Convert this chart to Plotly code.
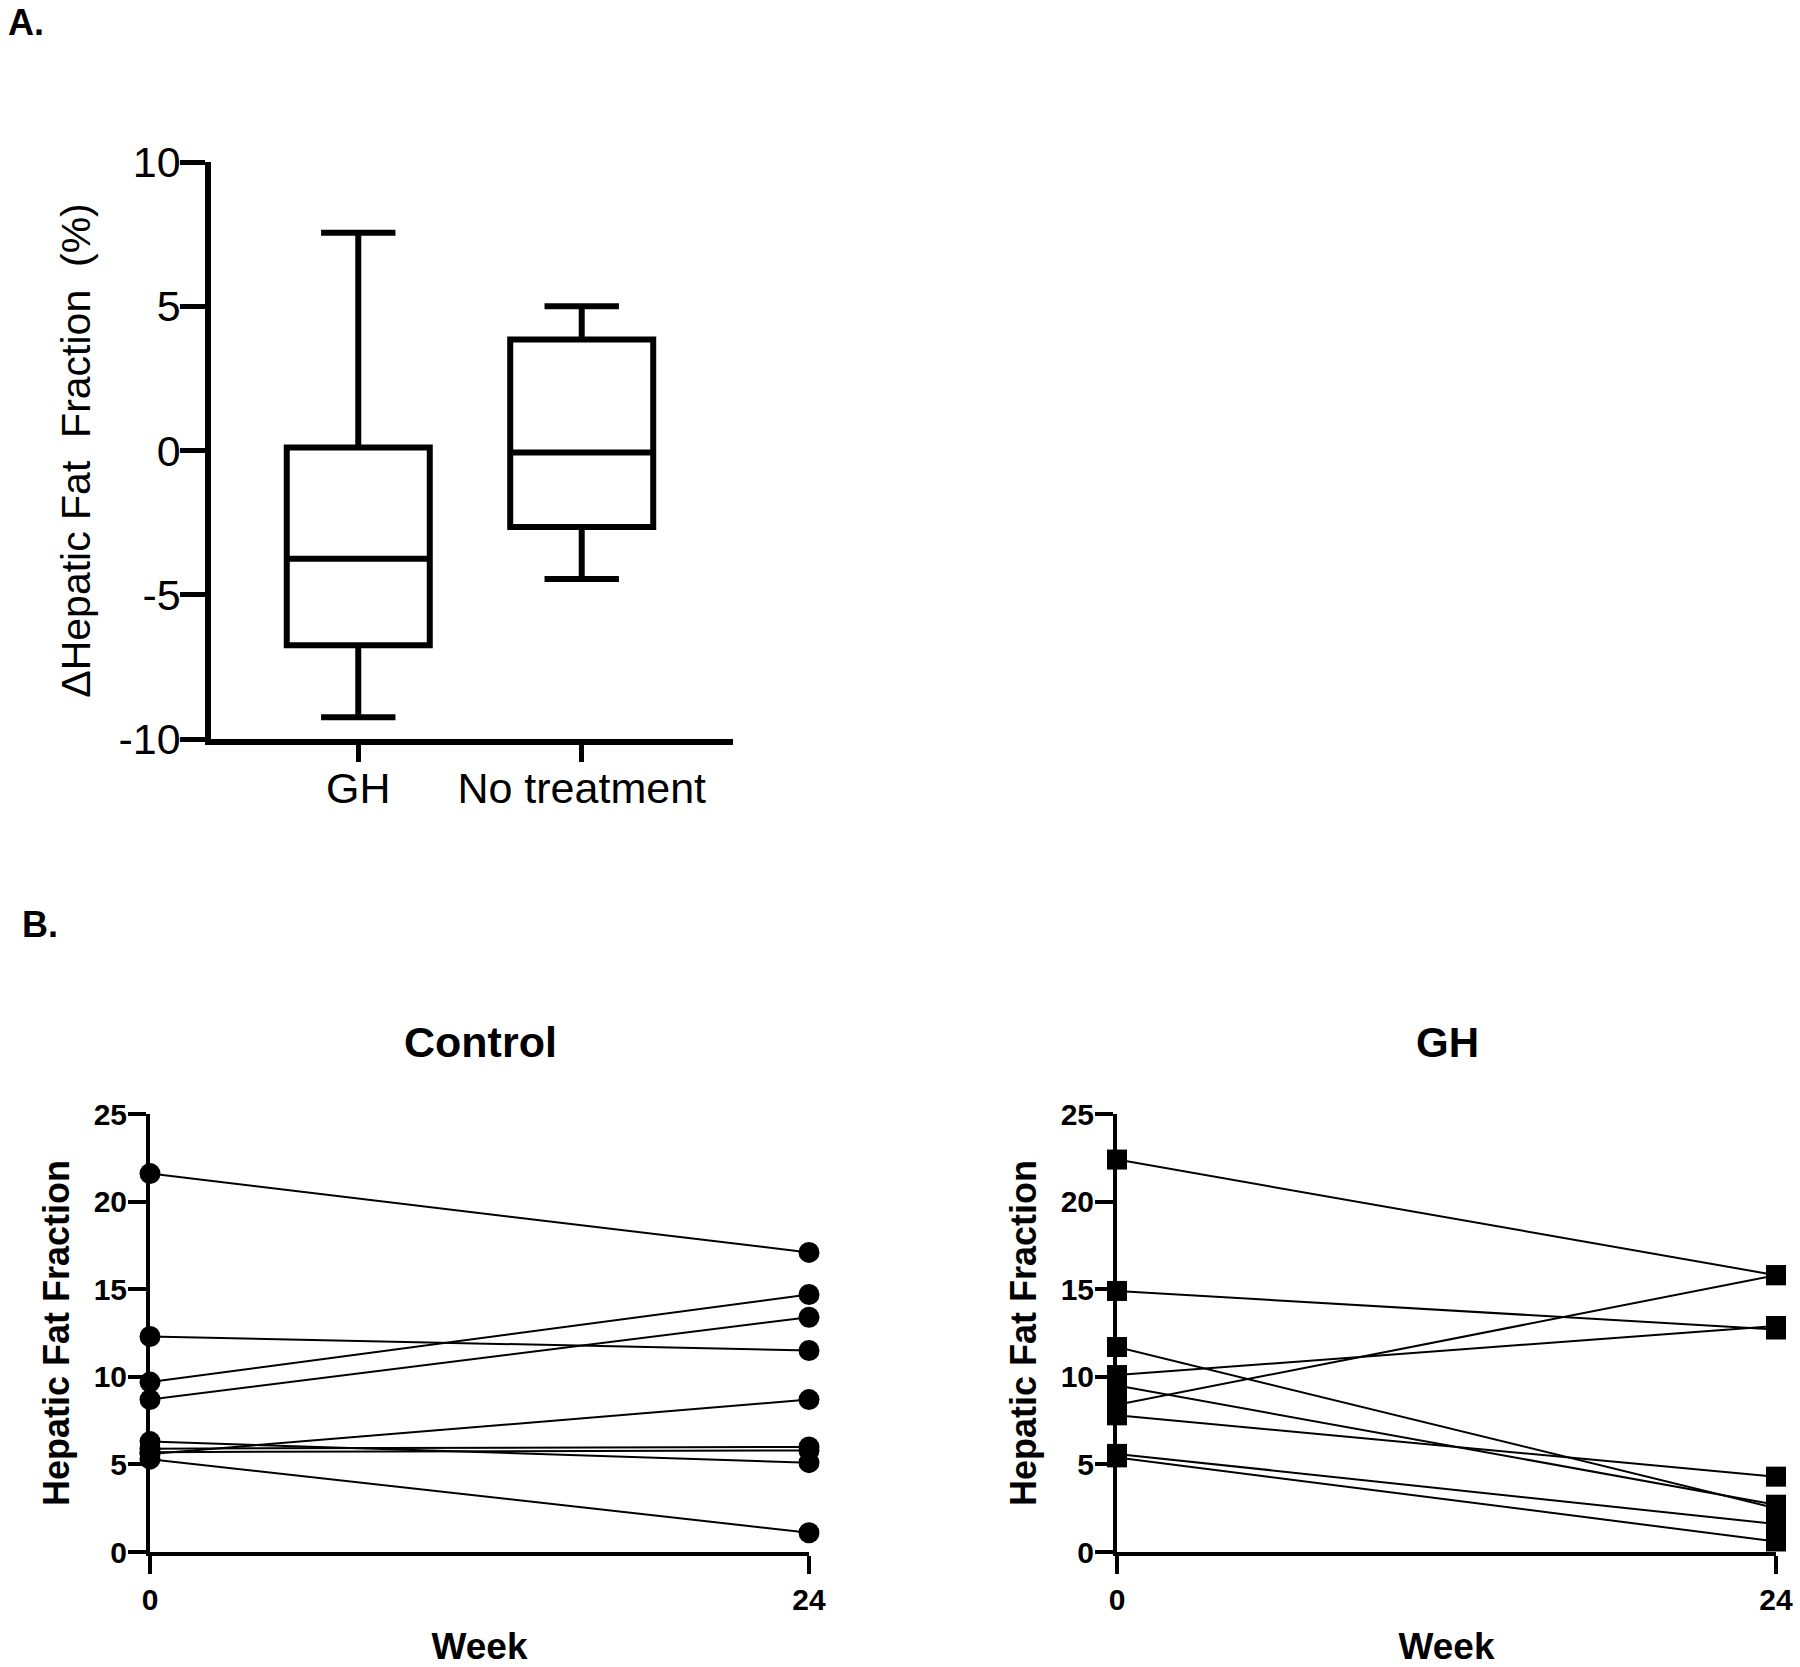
import plotly.graph_objects as go

# Panel A: change in hepatic fat fraction (box summary)
groups = ["GH", "No treatment"]
box_q1 = [-6.75, -2.65]
box_median = [-3.75, -0.07]
box_q3 = [0.1, 3.85]
box_low = [-9.25, -4.45]
box_high = [7.55, 5.0]
deltaTicks = [-10, -5, 0, 5, 10]
deltaTickText = ["-10", "-5", "0", "5", "10"]

# Panel B: individual subjects, week 0 -> week 24
weeks = [0, 24]
control_w0 = [21.6, 12.3, 9.7, 8.7, 5.6, 6.3, 5.9, 5.7, 5.3]
control_w24 = [17.1, 11.5, 14.7, 13.4, 8.7, 5.1, 6.0, 5.8, 1.1]
gh_w0 = [22.4, 14.9, 10.1, 8.4, 11.7, 9.5, 7.8, 5.6, 5.4]
gh_w24 = [15.8, 12.7, 12.9, 15.8, 2.5, 2.7, 4.3, 1.6, 0.6]

W, H = 1800, 1667
FONT = "Liberation Sans, Arial, sans-serif"


def px_x(p):
    return p / W


def px_y(p):
    return 1 - p / H


fig = go.Figure()

for i, g in enumerate(groups):
    fig.add_trace(go.Box(
        x=[g],
        q1=[box_q1[i]], median=[box_median[i]], q3=[box_q3[i]],
        lowerfence=[box_low[i]], upperfence=[box_high[i]],
        width=0.64, whiskerwidth=0.52,
        fillcolor="white",
        line=dict(color="black", width=6),
        boxpoints=False,
        showlegend=False,
        xaxis="x", yaxis="y",
    ))

for a, b in zip(control_w0, control_w24):
    fig.add_trace(go.Scatter(
        x=weeks, y=[a, b], mode="lines+markers",
        line=dict(color="black", width=2),
        marker=dict(symbol="circle", size=21, color="black"),
        cliponaxis=False, showlegend=False,
        xaxis="x2", yaxis="y2",
    ))

for a, b in zip(gh_w0, gh_w24):
    fig.add_trace(go.Scatter(
        x=weeks, y=[a, b], mode="lines+markers",
        line=dict(color="black", width=2),
        marker=dict(symbol="square", size=20, color="black"),
        cliponaxis=False, showlegend=False,
        xaxis="x3", yaxis="y3",
    ))

axA = dict(showline=True, linecolor="black", linewidth=5.5, ticks="outside",
           tickcolor="black", tickwidth=5, showgrid=False, zeroline=False,
           automargin=False,
           tickfont=dict(family=FONT, size=43, color="black"))
axB = dict(showline=True, linecolor="black", linewidth=4, ticks="outside",
           tickcolor="black", tickwidth=4, ticklen=18, showgrid=False, zeroline=False,
           automargin=False,
           tickfont=dict(family=FONT, size=30, color="black", weight="bold"))
titleB = dict(family=FONT, size=36, color="black", weight="bold")
weekFont = dict(family=FONT, size=37, color="black", weight="bold")

fig.update_layout(
    width=W, height=H,
    margin=dict(l=0, r=0, t=0, b=0),
    paper_bgcolor="white", plot_bgcolor="white",
    font=dict(family=FONT, color="black"),
    xaxis=dict(axA, domain=[px_x(211), px_x(733)], type="category",
               categoryorder="array", categoryarray=groups,
               range=[-0.659, 1.677], ticklen=17, ticklabelstandoff=-10, anchor="y"),
    yaxis=dict(axA, domain=[px_y(739), px_y(162)], range=[-10, 10],
               tickvals=deltaTicks, ticktext=deltaTickText, ticklen=25,
               ticklabelstandoff=-9, anchor="x",
               title=dict(text="ΔHepatic Fat\u00a0 Fraction\u00a0 (%)", standoff=17,
                          font=dict(family=FONT, size=41, color="black"))),
    xaxis2=dict(axB, domain=[px_x(150), px_x(809)], range=[0, 24],
                tickvals=[0, 24], anchor="y2",
                title=dict(text="Week", standoff=28, font=weekFont)),
    yaxis2=dict(axB, domain=[px_y(1552), px_y(1114)], range=[0, 25],
                tickvals=[0, 5, 10, 15, 20, 25], ticklabelstandoff=-5, anchor="x2",
                title=dict(text="Hepatic Fat Fraction", standoff=14, font=titleB)),
    xaxis3=dict(axB, domain=[px_x(1117), px_x(1776)], range=[0, 24],
                tickvals=[0, 24], anchor="y3",
                title=dict(text="Week", standoff=28, font=weekFont)),
    yaxis3=dict(axB, domain=[px_y(1552), px_y(1114)], range=[0, 25],
                tickvals=[0, 5, 10, 15, 20, 25], ticklabelstandoff=-5, anchor="x3",
                title=dict(text="Hepatic Fat Fraction", standoff=14, font=titleB)),
)

labels = [
    ("A.", px_x(6), px_y(23), 36, "left"),
    ("B.", px_x(20), px_y(924), 36, "left"),
    ("Control", px_x(480), px_y(1042), 43, "center"),
    ("GH", px_x(1447), px_y(1042), 42, "center"),
]
for text, x, y, size, xa in labels:
    fig.add_annotation(
        text=text, x=x, y=y, xref="paper", yref="paper",
        xanchor=xa, yanchor="middle", showarrow=False,
        font=dict(family=FONT, size=size, color="black", weight="bold"),
    )

# drop the default page margin so the figure sits at the top-left corner
fig.write_html("out.html", config={"displayModeBar": False},
               post_script="document.body.style.margin='0';")
